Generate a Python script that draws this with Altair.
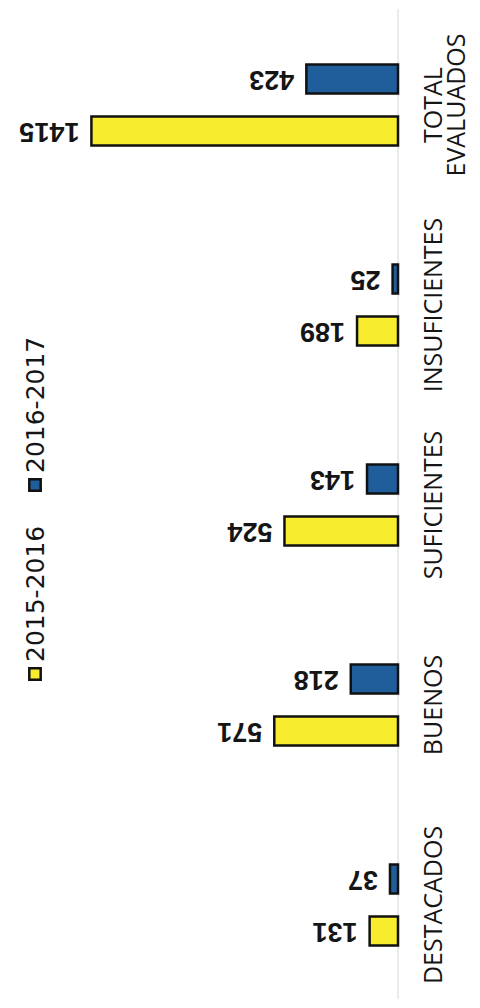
import altair as alt
import pandas as pd

categories = ["TOTAL EVALUADOS", "INSUFICIENTES", "SUFICIENTES", "BUENOS", "DESTACADOS"]
series = ["2015-2016", "2016-2017"]
values_2015 = [1415, 189, 524, 571, 131]
values_2016 = [423, 25, 143, 218, 37]
colors = ["#F8EC2E", "#1F5E9A"]

rows = []
for c, a, b in zip(categories, values_2015, values_2016):
    rows.append({"category": c, "series": series[0], "value": a})
    rows.append({"category": c, "series": series[1], "value": b})
df = pd.DataFrame(rows)
legend_df = pd.DataFrame({"series": series})

color_scale = alt.Scale(domain=series, range=colors)

y_enc = alt.Y(
    "category:N",
    sort=categories,
    scale=alt.Scale(range=[-4, 996], paddingInner=0.595, paddingOuter=0.2975),
    axis=alt.Axis(
        orient="right", title=None, domain=False, ticks=False, grid=False,
        labelAngle=-90, labelAlign="center", labelBaseline="top",
        labelPadding=23, labelFont="Open Sans", labelFontSize=25,
        labelColor="#151515", labelLineHeight=23, labelLimit=0,
        labelOverlap=False, labelExpr="split(datum.label, ' ')",
    ),
)
yoff_enc = alt.YOffset(
    "series:N", sort=["2016-2017", "2015-2016"],
    scale=alt.Scale(paddingInner=0.44, paddingOuter=0),
)
x_enc = alt.X("value:Q", scale=alt.Scale(domain=[0, 1800], reverse=True), axis=None)

base = alt.Chart(df).encode(x=x_enc, y=y_enc, yOffset=yoff_enc)

bars = base.mark_bar(stroke="#111111", strokeWidth=2.5).encode(
    color=alt.Color("series:N", scale=color_scale, legend=None)
)
labels = base.mark_text(
    angle=180, align="left", baseline="middle", dx=12,
    font="Liberation Sans", fontWeight="bold", fontSize=27, color="#151515",
).encode(text="value:Q")

baseline = alt.Chart(pd.DataFrame({"v": [0]})).mark_rule(
    color="#d8d8d8", strokeWidth=1
).encode(x=alt.X("v:Q", scale=alt.Scale(domain=[0, 1800], reverse=True), axis=None))

legend_y = [673, 484]
legend_layers = []
for s, ly in zip(series, legend_y):
    sq = alt.Chart(legend_df).transform_filter(alt.datum.series == s).mark_square(
        size=130, stroke="#111111", strokeWidth=2.5, opacity=1
    ).encode(
        x=alt.value(27), y=alt.value(ly - 8),
        color=alt.Color("series:N", scale=color_scale, legend=None),
    )
    tx = alt.Chart(legend_df).transform_filter(alt.datum.series == s).mark_text(
        angle=270, align="left", baseline="middle",
        font="DejaVu Sans", fontSize=25, color="#151515",
    ).encode(x=alt.value(28), y=alt.value(ly - 20), text="series:N")
    legend_layers += [sq, tx]

chart = alt.layer(baseline, bars, labels, *legend_layers).properties(
    width=390, height=990, background="white",
    padding={"left": 0, "top": 0, "right": 3, "bottom": 0},
).configure_view(stroke=None, strokeWidth=0)

chart.save("out.html", embed_options={"renderer": "svg", "actions": False})
